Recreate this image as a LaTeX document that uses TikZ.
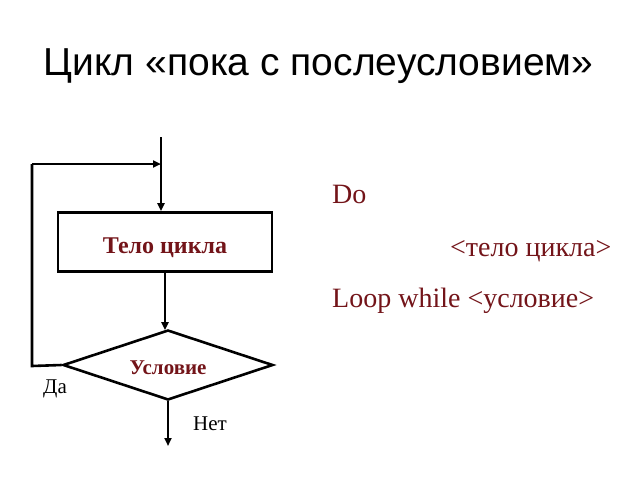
\documentclass[tikz,border=0pt]{standalone}
\usepackage{fontspec}
\setmainfont{Liberation Serif}
\newfontfamily\titlefont{Liberation Sans}
\usetikzlibrary{arrows.meta,shapes.geometric,calc}
\definecolor{dred}{RGB}{115,20,25}
\begin{document}
\begin{tikzpicture}[x=1pt,y=-1pt,
  line/.style={line width=2.6pt,black},
  arr/.style={line,-{Triangle[length=8pt,width=7pt]}},
  lbl/.style={font=\bfseries,text=dred,anchor=base,inner sep=0pt},
  code/.style={font=\fontsize{28}{30}\selectfont,text=dred,anchor=base west,inner sep=0pt},
  small/.style={font=\fontsize{21}{23}\selectfont,anchor=base west,inner sep=0pt}]
\useasboundingbox (0,0) rectangle (640,480);
\node[font=\titlefont\fontsize{39}{42}\selectfont,anchor=base,inner sep=0pt] (title) at (318.5,75) {Цикл «пока с послеусловием»};
\coordinate (start) at (161,137);
\coordinate (join) at (161,164);
\node[draw,line,minimum width=214pt,minimum height=59pt,inner sep=0pt] (body) at (165,242) {};
\node[lbl,font=\fontsize{24}{26}\selectfont\bfseries] (bodytxt) at (165,253) {Тело цикла};
\node[draw,line,diamond,minimum width=210pt,minimum height=70pt,inner sep=0pt,aspect=3] (cond) at (168,365) {};
\node[lbl,font=\fontsize{21}{23}\selectfont\bfseries] (condtxt) at (168,374) {Условие};
\coordinate (loopbl) at (32,366);
\coordinate (looptl) at (32,164);
\coordinate (exit) at (168,446);
\draw[arr] (start) -- (body.north -| start);
\draw[arr] (body.south) -- ($(body.south |- cond.north)+(0,1.5)$);
\draw[line] (cond.west) -- (loopbl) -- (looptl);
\draw[arr] (looptl) -- (join);
\draw[arr] (cond.south) -- (exit);
\node[small] (yes) at (43,393) {Да};
\node[small] (no) at (193,430) {Нет};
\node[code] (do) at (332,203) {Do};
\node[code] (bodycode) at (450,256) {<тело цикла>};
\node[code] (loopw) at (332,307) {Loop while <условие>};
\end{tikzpicture}
\end{document}
